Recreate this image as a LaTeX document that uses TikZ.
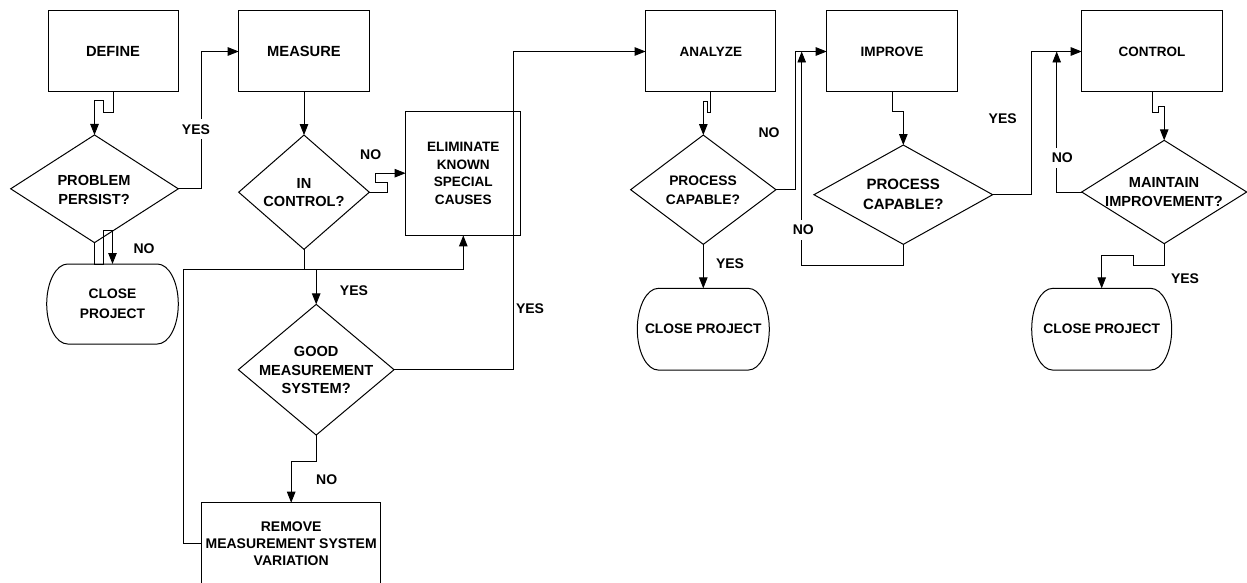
\documentclass[tikz,border=0pt]{standalone}
\usepackage{fontspec}
\setmainfont{Liberation Sans}
\usetikzlibrary{shapes.geometric,arrows.meta,calc}

% outline of a terminal (rounded-end) node: #1 node name, #2 half height
\newcommand\termoutline[2]{%
  \draw[line width=1pt] ([xshift=21pt]#1.north west) -- ([xshift=-21pt]#1.north east)
    arc[start angle=90, end angle=-90, x radius=21pt, y radius=#2]
    -- ([xshift=21pt]#1.south west)
    arc[start angle=270, end angle=90, x radius=21pt, y radius=#2] -- cycle;}

\tikzset{
  stepbox/.style={draw, line width=1pt, inner sep=0pt, outer sep=0pt, align=center,
    minimum height=81pt, font=\fontsize{14}{17.5}\selectfont\bfseries},
  terminal/.style={inner sep=0pt, outer sep=0pt, align=center,
    font=\fontsize{13.8}{20}\selectfont\bfseries},
  decision/.style={draw, diamond, line width=1pt, inner sep=0pt, outer sep=0pt},
  dtext/.style={align=center, inner sep=0pt, font=\fontsize{14.6}{18.5}\selectfont\bfseries},
  flow/.style={line width=0.9pt, -{Triangle[length=11pt,width=8.5pt]}},
  answer/.style={fill=white, inner xsep=1.5pt, inner ysep=5pt,
    font=\fontsize{14}{16}\selectfont\bfseries},
}

\begin{document}
\begin{tikzpicture}[x=1pt,y=-1pt]
\useasboundingbox (0,0) rectangle (1247,583);
\clip (0,0) rectangle (1247,583);

% process steps
\node[stepbox, minimum width=130pt, font=\fontsize{14.7}{18}\selectfont\bfseries] (define) at (113,51.5) {DEFINE};
\node[stepbox, minimum width=130.6pt, font=\fontsize{14.7}{18}\selectfont\bfseries] (measure) at (304,51.5) {MEASURE};
\node[stepbox, minimum width=115.3pt, minimum height=124.3pt, font=\fontsize{13.6}{17.6}\selectfont\bfseries] (elim) at (463.3,173.2) {ELIMINATE\\KNOWN\\SPECIAL\\CAUSES};
\node[stepbox, minimum width=179pt, minimum height=82pt, anchor=north, font=\fontsize{14}{17}\selectfont\bfseries] (remove) at (291.2,502.7) {REMOVE\\MEASUREMENT SYSTEM\\VARIATION};
\node[stepbox, minimum width=130.3pt, font=\fontsize{13.5}{17}\selectfont\bfseries] (analyze) at (710.8,51.5) {ANALYZE};
\node[stepbox, minimum width=130.6pt, font=\fontsize{13.6}{17}\selectfont\bfseries] (improve) at (892,51.5) {IMPROVE};
\node[stepbox, minimum width=140.6pt, font=\fontsize{13.5}{17}\selectfont\bfseries] (control) at (1152,51.5) {CONTROL};

% decisions
\node[decision, minimum width=167.6pt, minimum height=107.7pt] (pp) at (94.5,188.8) {};
\node[dtext] (pp-t) at (94,190) {PROBLEM\\PERSIST?};
\node[decision, minimum width=130.6pt, minimum height=114.3pt] (ic) at (304,192.2) {};
\node[dtext] (ic-t) at (304,192.5) {IN\\CONTROL?};
\node[decision, minimum width=155.7pt, minimum height=130.7pt] (gm) at (316.2,369.7) {};
\node[dtext, font=\fontsize{14.6}{18.3}\selectfont\bfseries] (gm-t) at (316.2,370) {GOOD\\MEASUREMENT\\SYSTEM?};
\node[decision, minimum width=145.3pt, minimum height=109.3pt] (pc1) at (703.3,189.7) {};
\node[dtext, font=\fontsize{13.8}{18.3}\selectfont\bfseries] (pc1-t) at (703,190.2) {PROCESS\\CAPABLE?};
\node[decision, minimum width=178.7pt, minimum height=99.3pt] (pc2) at (903.3,194.7) {};
\node[dtext, font=\fontsize{15}{19.7}\selectfont\bfseries] (pc2-t) at (903.3,194.2) {PROCESS\\CAPABLE?};
\node[decision, minimum width=165pt, minimum height=103.3pt] (mi) at (1164.2,192) {};
\node[dtext, font=\fontsize{14.6}{19}\selectfont\bfseries] (mi-t) at (1164,192.5) {MAINTAIN\\IMPROVEMENT?};

% terminals
\node[terminal, minimum width=131.6pt, minimum height=80pt] (c1) at (112.5,304) {CLOSE\\PROJECT};
\node[terminal, minimum width=132pt, minimum height=81.7pt] (c2) at (703.3,329.2) {CLOSE PROJECT};
\node[terminal, minimum width=140pt, minimum height=81.7pt] (c3) at (1101.7,329.2) {CLOSE PROJECT};
\termoutline{c1}{40pt}
\termoutline{c2}{40.85pt}
\termoutline{c3}{40.85pt}

% junction points
\coordinate (icj) at ($(ic.south)+(0,20)$);
\coordinate (impin) at ($(improve.west)+(-25,0)$);
\coordinate (ctlin) at ($(control.west)+(-25,0)$);

% connectors
\draw[flow] (define.south) -- ++(0,20.3) -- ++(-9.4,0) -- ++(0,-11.6) -| (pp.north);
\draw[flow] (pp.east) -- ++(23.2,0) |- (measure.west);
\draw[flow] (pp.south) -- (pp.south |- c1.north) -- ++(8.8,0) -- ++(0,-33.3) -| (c1.north);
\draw[flow] (measure.south) -- (ic.north);
\draw[flow] (ic.east) -- ++(18,0) -- ++(0,-9.6) -- ++(-11.6,0) |- (elim.west);
\draw[flow] (ic.south) -- (icj) -| (gm.north);
\draw[flow] (gm.east) -- ++(119.3,0) |- (analyze.west);
\draw[flow] (gm.south) -- ++(0,26.7) -| (remove.north);
\draw[flow] (remove.west) -- ++(-18.4,0) |- (icj) -| (elim.south);
\draw[flow] (analyze.south) -- ++(0,20.3) -- ++(-3.6,0) -- ++(0,-10.6) -| (pc1.north);
\draw[flow] (pc1.east) -- ++(19,0) |- (improve.west);
\draw[flow] (pc1.south) -- (c2.north);
\draw[flow] (improve.south) -- ++(0,19) -| (pc2.north);
\draw[flow] (pc2.south) -- ++(0,20.7) -| (impin);
\draw[flow] (pc2.east) -- ++(38.3,0) |- (control.west);
\draw[flow] (control.south) -- ++(0,20.3) -- ++(6,0) -- ++(0,-5.6) -| (mi.north);
\draw[flow] (mi.west) -| (ctlin);
\draw[flow] (mi.south) -- ++(0,21.7) -- ++(-31,0) -- ++(0,-10) -| (c3.north);

% branch answers
\node[answer] (y1) at (196,129.3) {YES};
\node[answer] (n1) at (144,248.3) {NO};
\node[answer] (n2) at (370.7,155) {NO};
\node[answer] (y2) at (354,290.7) {YES};
\node[answer] (y3) at (530,308.3) {YES};
\node[answer] (n3) at (326.7,479.3) {NO};
\node[answer] (n4) at (769,132.3) {NO};
\node[answer] (y4) at (730,263.3) {YES};
\node[answer] (n5) at (803.3,230) {NO};
\node[answer] (y5) at (1002.7,118.3) {YES};
\node[answer] (n6) at (1062.3,157.7) {NO};
\node[answer] (y6) at (1185,278.3) {YES};
\end{tikzpicture}
\end{document}
